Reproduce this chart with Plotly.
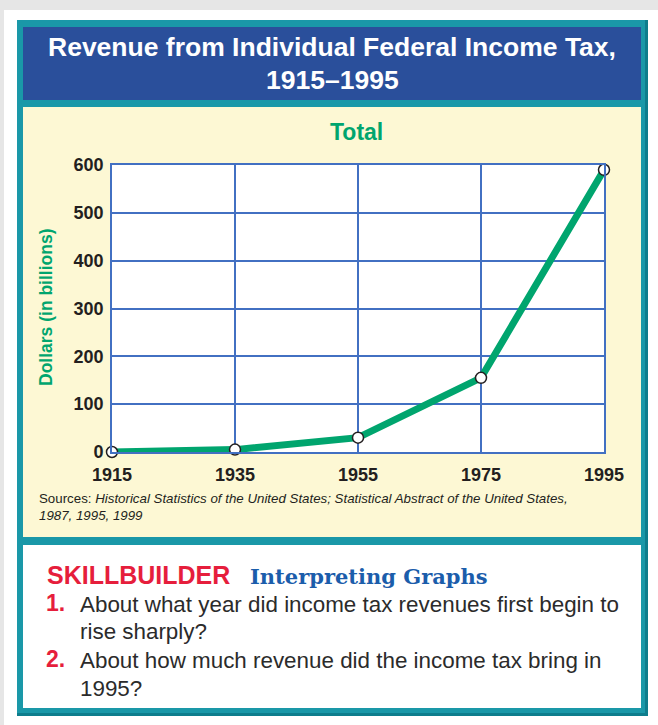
import plotly.graph_objects as go

# ---- data ----
years = [1915, 1935, 1955, 1975, 1995]
revenue = [0, 5, 30, 155, 590]
x_ticks = [1915, 1935, 1955, 1975, 1995]
y_ticks = [0, 100, 200, 300, 400, 500, 600]

W, H = 658, 725
def px(x): return x / W
def py(y): return 1 - y / H

TEAL = "#1a98a8"
TEAL_DARK = "#0e7d8c"
NAVY = "#2a4f9b"
CREAM = "#fdf8d4"
GREEN = "#00a56e"
GRID = "#4270c2"
INK = "#231f20"
RED = "#e61e3c"
SERIFBLUE = "#1b5dab"
SANS = "Liberation Sans, Arial, sans-serif"

fig = go.Figure()
fig.add_trace(go.Scatter(
    x=years, y=revenue, mode="lines+markers",
    line=dict(color=GREEN, width=7),
    marker=dict(size=11, color="white", line=dict(color=INK, width=1.5)),
    cliponaxis=False, hoverinfo="skip", showlegend=False,
))

shapes = []
def rect(x0, y0, x1, y1, color):
    shapes.append(dict(type="rect", xref="paper", yref="paper",
                       x0=px(x0), x1=px(x1), y0=py(y1), y1=py(y0),
                       fillcolor=color, line=dict(width=0), layer="below"))

rect(0, 0, W, 10, "#e6e6e6")
rect(0, 0, 4, H, "#e6e6e6")
rect(17, 20, 648, 716, TEAL_DARK)
rect(17, 20, 645, 713, TEAL)
rect(23, 27, 641, 100, NAVY)
rect(23, 107, 641, 537, CREAM)
rect(23, 545, 641, 708, "white")
rect(112, 165, 604, 452, "white")

ann = []
def text(x, y, s, size, color, family=SANS, xanchor="center", angle=0, align="center"):
    ann.append(dict(x=px(x), y=py(y), xref="paper", yref="paper", text=s,
                    showarrow=False, xanchor=xanchor, yanchor="middle",
                    textangle=angle, align=align,
                    font=dict(size=size, color=color, family=family)))

text(332, 47, "<b>Revenue from Individual Federal Income Tax,</b>", 26.5, "white")
text(332, 80, "<b>1915–1995</b>", 26.5, "white")
text(357, 132, "<b>Total</b>", 23, GREEN)
text(46, 307, "<b>Dollars (in billions)</b>", 17.5, GREEN, angle=-90)
text(37, 507, "Sources: <i>Historical Statistics of the United States; Statistical Abstract of the United States,</i><br><i>1987, 1995, 1999</i>",
     13.3, INK, xanchor="left", align="left")
text(45, 575, "<b>SKILLBUILDER</b>", 25, RED, xanchor="left")
text(248, 576, "<b>Interpreting Graphs</b>", 21, SERIFBLUE, family="DejaVu Serif, Liberation Serif, serif", xanchor="left")
text(44, 603, "<b>1.</b>", 23, RED, xanchor="left")
text(44, 659, "<b>2.</b>", 23, RED, xanchor="left")
text(78, 604, "About what year did income tax revenues first begin to", 22.4, "#2b2b2b", xanchor="left")
text(78, 631, "rise sharply?", 22.4, "#2b2b2b", xanchor="left")
text(78, 660, "About how much revenue did the income tax bring in", 22.4, "#2b2b2b", xanchor="left")
text(78, 688, "1995?", 22.4, "#2b2b2b", xanchor="left")

fig.update_layout(
    width=W, height=H, margin=dict(l=0, r=0, t=0, b=0, pad=0, autoexpand=False),
    paper_bgcolor="white", plot_bgcolor="rgba(0,0,0,0)",
    shapes=shapes, annotations=ann, showlegend=False,
    xaxis=dict(domain=[px(112), px(604)], range=[1915, 1995],
               tickvals=x_ticks, ticktext=[str(v) for v in x_ticks],
               showgrid=True, gridcolor=GRID, gridwidth=1.6,
               showline=True, linecolor=GRID, linewidth=1.6, mirror=True,
               zeroline=False, ticks="", ticklabelstandoff=6, automargin=False,
               tickfont=dict(size=18, color=INK, family=SANS, weight="bold"),
               fixedrange=True),
    yaxis=dict(domain=[py(452), py(165)], range=[0, 600],
               tickvals=y_ticks, ticktext=[str(v) for v in y_ticks],
               showgrid=True, gridcolor=GRID, gridwidth=1.6,
               showline=True, linecolor=GRID, linewidth=1.6, mirror=True,
               zeroline=False, ticks="", ticklabelstandoff=3, automargin=False,
               tickfont=dict(size=18, color=INK, family=SANS, weight="bold"),
               fixedrange=True),
)

fig.write_html("out.html")
